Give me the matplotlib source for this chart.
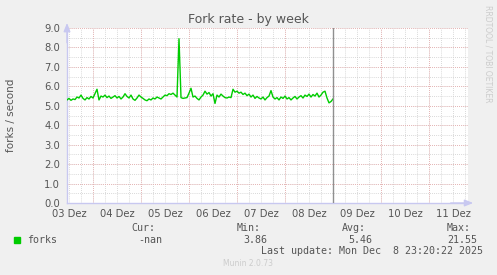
import numpy as np
import matplotlib
matplotlib.use('Agg')
import matplotlib.pyplot as plt

# Munin "Fork rate - by week" graph, values
title = 'Fork rate - by week'
ylabel = 'forks / second'
day_labels = ['03 Dez', '04 Dez', '05 Dez', '06 Dez', '07 Dez',
              '08 Dez', '09 Dez', '10 Dez', '11 Dez']

# time in days since 03 Dez 00:00, hourly samples
t_start = 0.4583
t_end = 8.8125
t_now = 6.0
forks = [5.30, 5.38, 5.28, 5.35, 5.32, 5.45, 5.40, 5.55, 5.38, 5.30,
         5.42, 5.35, 5.48, 5.40, 5.62, 5.85, 5.30, 5.50, 5.45, 5.55,
         5.42, 5.50, 5.38, 5.45, 5.52, 5.40, 5.48, 5.35, 5.45, 5.62,
         5.48, 5.40, 5.55, 5.35, 5.28, 5.40, 5.55, 5.45, 5.38, 5.30,
         5.26, 5.35, 5.30, 5.40, 5.35, 5.45, 5.40, 5.35, 5.45, 5.55,
         5.52, 5.62, 5.58, 5.65, 5.55, 5.45, 8.45, 5.42, 5.38, 5.40,
         5.42, 5.65, 5.90, 5.45, 5.50, 5.38, 5.30, 5.45, 5.55, 5.75,
         5.60, 5.68, 5.50, 5.62, 5.12, 5.55, 5.45, 5.60, 5.50, 5.42,
         5.40, 5.45, 5.42, 5.85, 5.70, 5.75, 5.65, 5.70, 5.58, 5.65,
         5.52, 5.60, 5.45, 5.55, 5.38, 5.48, 5.40, 5.35, 5.45, 5.30,
         5.42, 5.50, 5.78, 5.45, 5.35, 5.42, 5.30, 5.45, 5.38, 5.50,
         5.35, 5.42, 5.30, 5.40, 5.48, 5.35, 5.45, 5.52, 5.40, 5.55,
         5.48, 5.60, 5.45, 5.58, 5.50, 5.65, 5.45, 5.55, 5.70, 5.75,
         5.40, 5.15, 5.22, 5.35]

legend_name = 'forks'
stats_head = ['Cur:', 'Min:', 'Avg:', 'Max:']
stats_vals = ['-nan', '3.86', '5.46', '21.55']
last_update = 'Last update: Mon Dec  8 23:20:22 2025'
footer = 'Munin 2.0.73'

W, H = 497, 275
BG = '#f0f0f0'
TXT = '#555555'
AXC = '#c8c8f0'


def fx(x):
    return x / W


def fy(y):
    return 1 - y / H


fig = plt.figure(figsize=(W / 100, H / 100), dpi=100, facecolor=BG)
ax = fig.add_axes([fx(67), fy(203), (468 - 67) / W, (203 - 28) / H])
ax.set_facecolor('white')

t = t_start + np.arange(len(forks)) / 24.0
ax.plot(t, forks, color='#00cc00', lw=1.0, zorder=5)

ax.set_xlim(t_start, t_end)
ax.set_ylim(0, 9)

# minor grid: 6 hours / 0.5
for d in np.arange(0.5, 9, 0.25):
    if t_start < d < t_end:
        ax.axvline(d, color='#cccccc', lw=0.6, ls=(0, (1, 1.5)), zorder=1)
for v in np.arange(0.5, 9.01, 0.5):
    ax.axhline(v, color='#cccccc', lw=0.6, ls=(0, (1, 1.5)), zorder=1)
# major grid: days / 1.0
for d in range(1, 9):
    ax.axvline(d, color='#eaa8a8', lw=0.6, ls=(0, (1, 1.5)), zorder=2)
for v in range(1, 10):
    ax.axhline(v, color='#eaa8a8', lw=0.6, ls=(0, (1, 1.5)), zorder=2)

ax.axvline(t_now, color='#909090', lw=1.0, zorder=6)

ax.set_xticks(np.arange(len(day_labels)) + 0.5)
ax.set_xticklabels(day_labels)
ax.set_yticks(np.arange(0, 10))
ax.set_yticklabels(['%.1f' % v for v in range(10)])
ax.tick_params(length=0, labelsize=7.2, colors=TXT)
ax.tick_params(axis='x', pad=4.5)
ax.tick_params(axis='y', pad=5)

for s in ['top', 'right']:
    ax.spines[s].set_visible(False)
for s in ['left', 'bottom']:
    ax.spines[s].set_color(AXC)
    ax.spines[s].set_linewidth(1.0)

# axis arrows
ax.annotate('', xy=(0, 1.045), xytext=(0, 0.9), xycoords='axes fraction',
            arrowprops=dict(arrowstyle='-|>,head_length=0.5,head_width=0.2',
                            color=AXC, lw=1.0))
ax.annotate('', xy=(1.02, 0), xytext=(0.95, 0), xycoords='axes fraction',
            arrowprops=dict(arrowstyle='-|>,head_length=0.5,head_width=0.2',
                            color=AXC, lw=1.0))

fig.text(fx(248), fy(19), title, ha='center', va='center', fontsize=9.0,
         color=TXT)
fig.text(fx(11), fy(115), ylabel, ha='center', va='center', rotation=90,
         fontsize=7.5, color=TXT)
fig.text(fx(488), fy(5), 'RRDTOOL / TOBI OETIKER', ha='center', va='top',
         rotation=270, fontsize=5.5, color='#cccccc')

# legend block
mono = 'DejaVu Sans Mono'
fig.patches.append(plt.Rectangle((fx(14), fy(243)), 6 / W, 6 / H,
                                 transform=fig.transFigure, color='#00cc00'))
fig.text(fx(27), fy(240), legend_name, ha='left', va='center',
         family=mono, fontsize=7.2, color=TXT)
head_x = [131, 237, 342, 447]
val_x = [138, 243, 348, 447]
for hx, vx, h, v in zip(head_x, val_x, stats_head, stats_vals):
    fig.text(fx(hx), fy(228), h, ha='left', va='center', family=mono,
             fontsize=7.2, color=TXT)
    fig.text(fx(vx), fy(240), v, ha='left', va='center', family=mono,
             fontsize=7.2, color=TXT)
fig.text(fx(483), fy(251), last_update, ha='right', va='center',
         family=mono, fontsize=7.2, color=TXT)
fig.text(fx(248), fy(264), footer, ha='center', va='center', fontsize=5.5,
         color='#cccccc')

fig.savefig('out.png', dpi=100, facecolor=BG)
